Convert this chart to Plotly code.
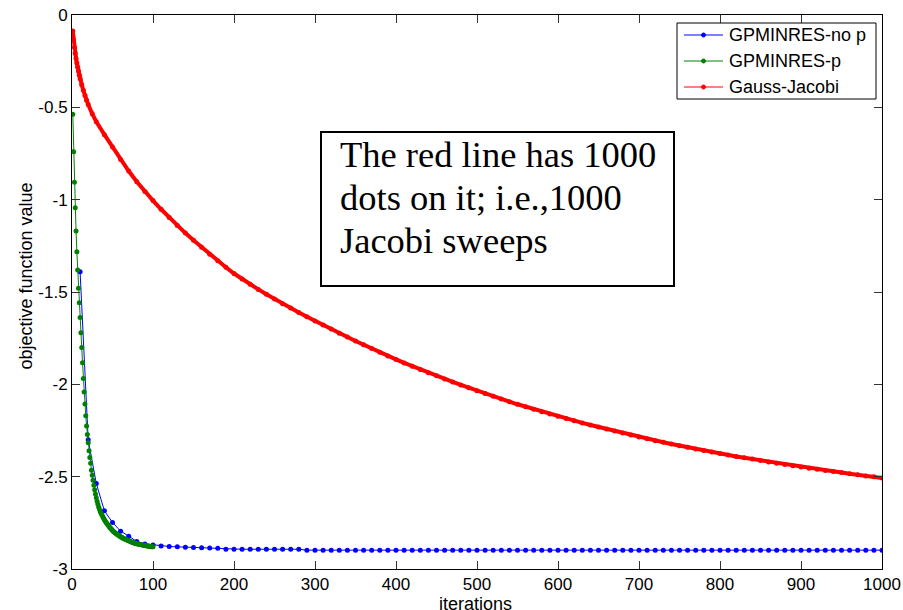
import plotly.graph_objects as go

# ---- data -------------------------------------------------------------
# GPMINRES without preconditioner: sampled every 10 iterations
blue_iter = list(range(10, 1001, 10))
blue_val = [
    -1.390, -2.300, -2.537, -2.685, -2.748, -2.795, -2.822, -2.851, -2.864,
    -2.870, -2.875, -2.878, -2.880, -2.882, -2.884, -2.885, -2.886, -2.887,
    -2.893, -2.893, -2.893, -2.893, -2.893, -2.893, -2.893, -2.893, -2.893, -2.893,
    -2.898, -2.898, -2.898, -2.898, -2.898, -2.898, -2.898, -2.898, -2.898, -2.898,
    -2.898, -2.898, -2.898, -2.898, -2.898, -2.898, -2.898, -2.898, -2.898, -2.898,
    -2.898, -2.898, -2.898, -2.898, -2.898, -2.898, -2.898, -2.898, -2.898, -2.898,
    -2.898, -2.898, -2.898, -2.898, -2.898, -2.898, -2.898, -2.898, -2.898, -2.898,
    -2.898, -2.898, -2.898, -2.898, -2.898, -2.898, -2.898, -2.898, -2.898, -2.898,
    -2.898, -2.898, -2.898, -2.898, -2.898, -2.898, -2.898, -2.898, -2.898, -2.898,
    -2.898, -2.898, -2.898, -2.898, -2.898, -2.898, -2.898, -2.898, -2.898, -2.898,
    -2.898, -2.898,
]

# GPMINRES with preconditioner: every iteration, 1..100
green_iter = list(range(1, 101))
green_val = [
    -0.538, -0.740, -0.906, -1.044, -1.170, -1.282, -1.381, -1.480, -1.558, -1.638,
    -1.721, -1.800, -1.883, -1.968, -2.042, -2.107, -2.170, -2.225, -2.271, -2.317,
    -2.360, -2.396, -2.428, -2.465, -2.492, -2.519, -2.546, -2.571, -2.594, -2.614,
    -2.633, -2.650, -2.665, -2.678, -2.690, -2.699, -2.708, -2.717, -2.725, -2.733,
    -2.740, -2.747, -2.753, -2.759, -2.765, -2.771, -2.776, -2.781, -2.786, -2.791,
    -2.796, -2.800, -2.804, -2.807, -2.810, -2.813, -2.816, -2.819, -2.822, -2.825,
    -2.828, -2.830, -2.833, -2.835, -2.837, -2.839, -2.841, -2.843, -2.845, -2.847,
    -2.849, -2.851, -2.853, -2.855, -2.857, -2.858, -2.860, -2.861, -2.862, -2.863,
    -2.864, -2.865, -2.866, -2.867, -2.868, -2.869, -2.870, -2.871, -2.872, -2.873,
    -2.874, -2.874, -2.875, -2.876, -2.877, -2.877, -2.878, -2.879, -2.879, -2.880,
]

# Gauss-Jacobi sweeps
red_iter = [1, 2, 3, 4, 5, 6, 7, 8, 9, 10, 12, 14, 16, 18, 20, 25] + list(range(30, 1001, 10))
red_val = [
    -0.087, -0.135, -0.176, -0.207, -0.235, -0.260, -0.283, -0.305, -0.326, -0.345,
    -0.378, -0.408, -0.436, -0.462, -0.485, -0.535,
    -0.578, -0.648, -0.715, -0.782, -0.845, -0.903, -0.956, -1.005,
    -1.052, -1.097, -1.140, -1.181, -1.220, -1.258, -1.295, -1.331, -1.366, -1.400,
    -1.430, -1.458, -1.486, -1.512, -1.538, -1.563, -1.587, -1.611, -1.634, -1.657,
    -1.679, -1.701, -1.723, -1.744, -1.765, -1.786, -1.806, -1.826, -1.846, -1.865,
    -1.884, -1.902, -1.920, -1.937, -1.954, -1.971, -1.987, -2.003, -2.019, -2.035,
    -2.050, -2.065, -2.080, -2.094, -2.108, -2.121, -2.135, -2.148, -2.160, -2.173,
    -2.185, -2.197, -2.209, -2.220, -2.231, -2.242, -2.253, -2.264, -2.274, -2.285,
    -2.295, -2.305, -2.314, -2.323, -2.332, -2.341, -2.350, -2.358, -2.367, -2.375,
    -2.383, -2.391, -2.398, -2.405, -2.413, -2.420, -2.427, -2.434, -2.441, -2.448,
    -2.454, -2.460, -2.466, -2.472, -2.478, -2.484, -2.490, -2.496, -2.501, -2.507,
]

x_ticks = [0, 100, 200, 300, 400, 500, 600, 700, 800, 900, 1000]
y_ticks = [-3, -2.5, -2, -1.5, -1, -0.5, 0]
y_tick_text = ["-3", "-2.5", "-2", "-1.5", "-1", "-0.5", "0"]

series_names = ["GPMINRES-no p", "GPMINRES-p", "Gauss-Jacobi"]
series_colors = ["#0000FF", "#008000", "#FF0000"]

SANS = "Arial, Liberation Sans, sans-serif"
SERIF = "Times New Roman, Liberation Serif, serif"

# ---- page geometry (pixels) ---------------------------------------------
FIG_W, FIG_H = 903, 610
M_L, M_R, M_T, M_B = 72, 21, 15, 41
PLOT_W = FIG_W - M_L - M_R
PLOT_H = FIG_H - M_T - M_B


def px_x(px):
    """page pixel column -> paper x"""
    return (px - M_L) / PLOT_W


def px_y(py):
    """page pixel row -> paper y"""
    return (FIG_H - M_B - py) / PLOT_H


# ---- figure -----------------------------------------------------------
fig = go.Figure()

fig.add_trace(go.Scatter(
    x=blue_iter, y=blue_val, mode="lines+markers", name=series_names[0],
    line=dict(color=series_colors[0], width=1),
    marker=dict(color=series_colors[0], size=5, symbol="circle"),
))
fig.add_trace(go.Scatter(
    x=green_iter, y=green_val, mode="lines+markers", name=series_names[1],
    line=dict(color=series_colors[1], width=1),
    marker=dict(color=series_colors[1], size=5, symbol="circle"),
))
fig.add_trace(go.Scatter(
    x=red_iter, y=red_val, mode="lines+markers", name=series_names[2],
    line=dict(color=series_colors[2], width=4),
    marker=dict(color=series_colors[2], size=5, symbol="circle"),
))

axis_common = dict(
    showline=True, linecolor="black", linewidth=1, mirror="allticks",
    ticks="inside", ticklen=8, tickcolor="#333333", tickwidth=1,
    showgrid=False, zeroline=False, automargin=False,
    tickfont=dict(family=SANS, size=17, color="black"),
)

fig.update_xaxes(range=[0, 1000], tickvals=x_ticks, ticktext=[str(v) for v in x_ticks],
                 **axis_common)
fig.update_yaxes(range=[-3, 0], tickvals=y_ticks, ticktext=y_tick_text, **axis_common)

# ---- legend box (drawn as shapes + text) --------------------------------
fig.add_shape(type="rect", xref="paper", yref="paper",
              x0=px_x(677), x1=px_x(876), y0=px_y(99), y1=px_y(23),
              line=dict(color="black", width=1), fillcolor="white", layer="above")
legend_rows = [35, 61, 87]
for name, color, row in zip(series_names, series_colors, legend_rows):
    fig.add_shape(type="line", xref="paper", yref="paper",
                  x0=px_x(684), x1=px_x(723), y0=px_y(row), y1=px_y(row),
                  line=dict(color=color, width=1), layer="above")
    fig.add_shape(type="circle", xref="paper", yref="paper",
                  xsizemode="pixel", ysizemode="pixel",
                  xanchor=px_x(703.5), yanchor=px_y(row),
                  x0=-2, x1=2, y0=-2, y1=2,
                  line=dict(color=color, width=1), fillcolor=color, layer="above")
    fig.add_annotation(text=name, xref="paper", yref="paper",
                       x=px_x(727), y=px_y(row), xanchor="left", yanchor="middle",
                       showarrow=False, font=dict(family=SANS, size=18, color="black"))

# ---- text box -----------------------------------------------------------
fig.add_shape(type="rect", xref="paper", yref="paper",
              x0=px_x(321), x1=px_x(674), y0=px_y(286), y1=px_y(132),
              line=dict(color="black", width=2), fillcolor="white", layer="above")

box_lines = ["The red line has 1000", "dots on it; i.e.,1000", "Jacobi sweeps"]
box_rows = [154.5, 197.5, 240.5]
for txt, row in zip(box_lines, box_rows):
    fig.add_annotation(text=txt, xref="paper", yref="paper", x=px_x(338), y=px_y(row),
                       xanchor="left", yanchor="middle", showarrow=False,
                       font=dict(family=SERIF, size=36.5, color="black"))

# ---- axis titles --------------------------------------------------------
fig.add_annotation(text="iterations", xref="paper", yref="paper", x=px_x(475), y=px_y(604),
                   xanchor="center", yanchor="middle", showarrow=False,
                   font=dict(family=SANS, size=18, color="black"))
fig.add_annotation(text="objective function value", xref="paper", yref="paper",
                   x=px_x(25.5), y=px_y(276), textangle=-90,
                   xanchor="center", yanchor="middle", showarrow=False,
                   font=dict(family=SANS, size=18, color="black"))

fig.update_layout(
    width=FIG_W, height=FIG_H,
    margin=dict(l=M_L, r=M_R, t=M_T, b=M_B),
    paper_bgcolor="white", plot_bgcolor="white",
    showlegend=False,
    hovermode=False,
)

fig.write_html("out.html")
